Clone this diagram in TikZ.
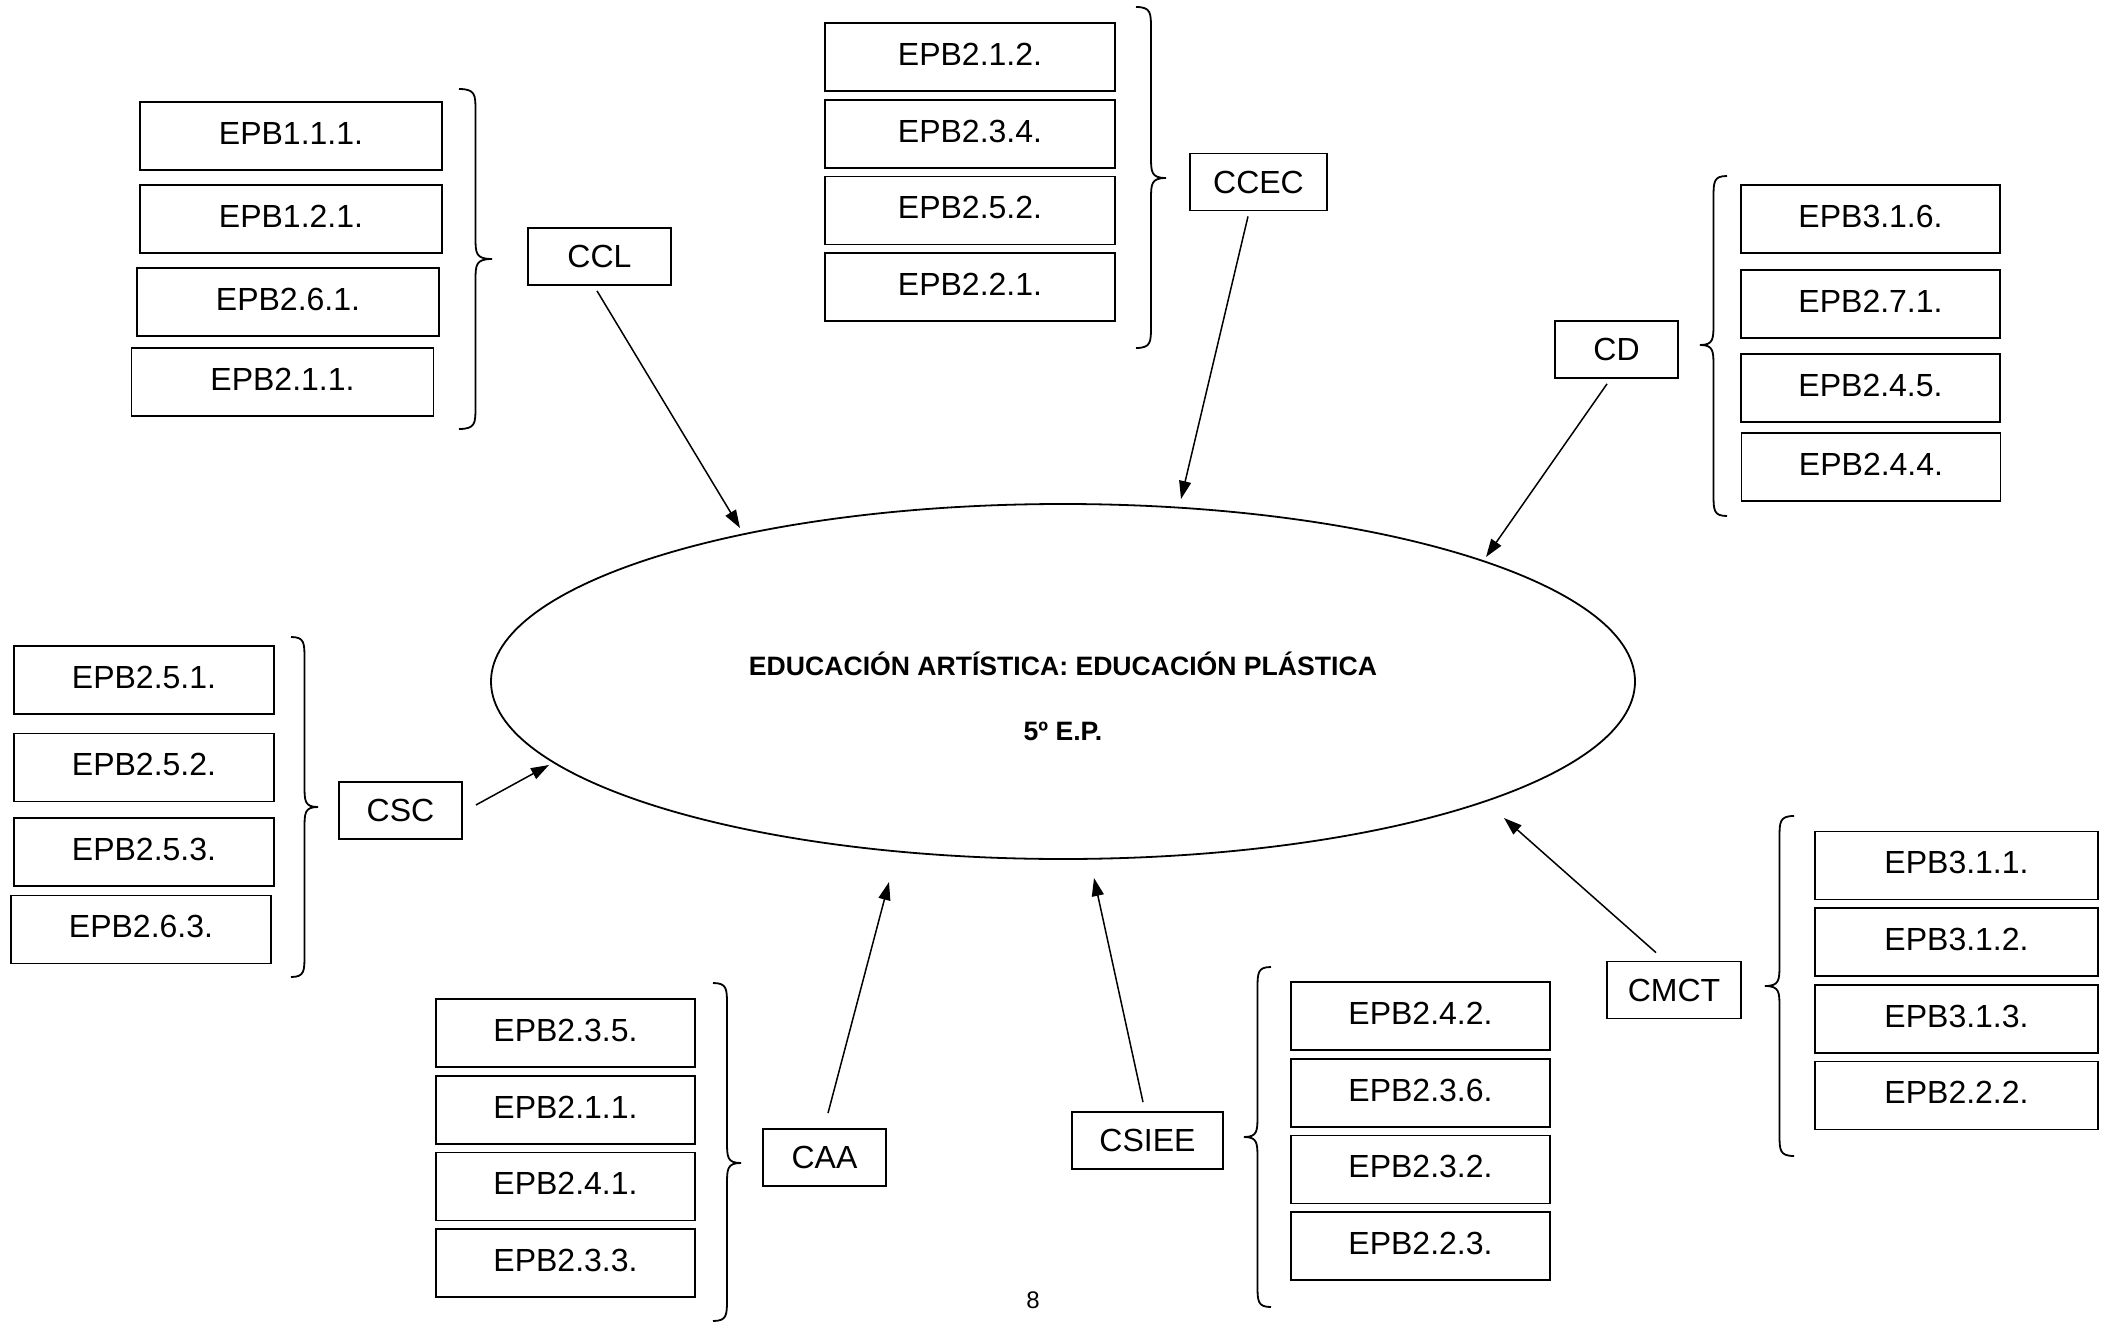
\documentclass[tikz,border=0pt]{standalone}
\usepackage{fontspec}
\setmainfont{Liberation Sans}
\usetikzlibrary{arrows.meta,shapes.geometric}
\newcommand{\drawbrace}[5]{% #1 ends x, #2 tip x, #3 top y, #4 tip y, #5 bottom y
  \draw[bracestyle] (#1,#3) .. controls ({(#1+#2)/2},#3) and ({(#1+#2)/2},{#3+6}) .. ({(#1+#2)/2},{#3+22})
    -- ({(#1+#2)/2},{#4-22}) .. controls ({(#1+#2)/2},{#4-6}) and ({(#1+#2)/2},#4) .. (#2,#4)
    .. controls ({(#1+#2)/2},#4) and ({(#1+#2)/2},{#4+6}) .. ({(#1+#2)/2},{#4+22})
    -- ({(#1+#2)/2},{#5-22}) .. controls ({(#1+#2)/2},{#5-6}) and ({(#1+#2)/2},#5) .. (#1,#5);
}
\tikzset{
  boxtext/.style={font=\fontsize{16pt}{19pt}\selectfont},
  epb/.style={draw, line width=0.9pt, minimum height=34pt, inner sep=0pt, text depth=3pt, boxtext},
  comp/.style={draw, line width=0.9pt, minimum height=28.5pt, inner sep=0pt, text depth=0pt, boxtext},
  bracestyle/.style={line width=0.9pt},
  arr/.style={line width=0.75pt, -{Triangle[length=9pt,width=6pt]}},
  titletext/.style={font=\fontsize{13.3pt}{16pt}\selectfont\bfseries, inner sep=0pt}
}
\begin{document}
\begin{tikzpicture}[x=0.5pt,y=-0.5pt]
\useasboundingbox (0,0) rectangle (2105,1322);

% central ellipse
\node[draw, ellipse, line width=0.9pt, minimum width=572pt, minimum height=177.5pt, inner sep=0pt] (main) at (1063,681.5) {};
\node[titletext] (title1) at (1063,664) {EDUCACIÓN ARTÍSTICA: EDUCACIÓN PLÁSTICA};
\node[titletext] (title2) at (1063,731) {5º E.P.};

% CCL group
\node[epb, minimum width=151pt] (l1) at (291,136) {EPB1.1.1.};
\node[epb, minimum width=151pt] (l2) at (291,219) {EPB1.2.1.};
\node[epb, minimum width=151pt] (l3) at (288,302) {EPB2.6.1.};
\node[epb, minimum width=151pt] (l4) at (282.5,382) {EPB2.1.1.};
\drawbrace{459}{492}{89}{259}{429}
\node[comp, minimum width=71.5pt] (ccl) at (599.5,256.5) {CCL};
\coordinate (tccl) at (740,528);
\draw[arr] ([shift={(-2.5,5)}]ccl.south) -- (tccl);

% CCEC group
\node[epb, minimum width=145pt] (e1) at (970,57) {EPB2.1.2.};
\node[epb, minimum width=145pt] (e2) at (970,134) {EPB2.3.4.};
\node[epb, minimum width=145pt] (e3) at (970,210.5) {EPB2.5.2.};
\node[epb, minimum width=145pt] (e4) at (970,287) {EPB2.2.1.};
\drawbrace{1136}{1166}{7}{178}{348}
\node[comp, minimum width=68.5pt] (ccec) at (1258.5,182) {CCEC};
\coordinate (tccec) at (1181,499);
\draw[arr] ([shift={(-10.5,5)}]ccec.south) -- (tccec);

% CD group
\node[comp, minimum width=61.5pt] (cd) at (1616.5,349.5) {CD};
\coordinate (tcd) at (1486,557);
\draw[arr] ([shift={(-9.5,5)}]cd.south) -- (tcd);
\node[epb, minimum width=129.5pt] (d1) at (1870.5,219) {EPB3.1.6.};
\node[epb, minimum width=129.5pt] (d2) at (1870.5,304) {EPB2.7.1.};
\node[epb, minimum width=129.5pt] (d3) at (1870.5,388) {EPB2.4.5.};
\node[epb, minimum width=129.5pt] (d4) at (1871,467) {EPB2.4.4.};
\drawbrace{1727}{1700}{176}{345}{516}

% CSC group
\node[epb, minimum width=130pt] (s1) at (144,680) {EPB2.5.1.};
\node[epb, minimum width=130pt] (s2) at (144,767.5) {EPB2.5.2.};
\node[epb, minimum width=130pt] (s3) at (144,852) {EPB2.5.3.};
\node[epb, minimum width=130pt] (s4) at (141,929.5) {EPB2.6.3.};
\drawbrace{291}{318}{637}{807}{977}
\node[comp, minimum width=61.5pt] (csc) at (400.5,810.5) {CSC};
\coordinate (tcsc) at (549,765);
\draw[arr] ([shift={(13,-5.5)}]csc.east) -- (tcsc);

% CAA group
\node[epb, minimum width=129.5pt] (a1) at (565.5,1033) {EPB2.3.5.};
\node[epb, minimum width=129.5pt] (a2) at (565.5,1110) {EPB2.1.1.};
\node[epb, minimum width=129.5pt] (a3) at (565.5,1186.5) {EPB2.4.1.};
\node[epb, minimum width=129.5pt] (a4) at (565.5,1263) {EPB2.3.3.};
\drawbrace{713}{741}{983}{1163}{1321}
\node[comp, minimum width=61.5pt] (caa) at (824.5,1157.5) {CAA};
\coordinate (tcaa) at (889,882);
\draw[arr] ([shift={(3.5,-15)}]caa.north) -- (tcaa);

% CSIEE group
\node[comp, minimum width=75.5pt] (csiee) at (1147.5,1140.5) {CSIEE};
\coordinate (tcsiee) at (1094,878);
\draw[arr] ([shift={(-4.5,-9)}]csiee.north) -- (tcsiee);
\node[epb, minimum width=129.5pt] (i1) at (1420.5,1016) {EPB2.4.2.};
\node[epb, minimum width=129.5pt] (i2) at (1420.5,1093) {EPB2.3.6.};
\node[epb, minimum width=129.5pt] (i3) at (1420.5,1169.5) {EPB2.3.2.};
\node[epb, minimum width=129.5pt] (i4) at (1420.5,1246) {EPB2.2.3.};
\drawbrace{1271}{1244}{967}{1137}{1307}

% CMCT group
\node[comp, minimum width=67pt] (cmct) at (1674,990) {CMCT};
\coordinate (tcmct) at (1504,818);
\draw[arr] ([shift={(-18,-8)}]cmct.north) -- (tcmct);
\node[epb, minimum width=141.5pt] (m1) at (1956.5,865.5) {EPB3.1.1.};
\node[epb, minimum width=141.5pt] (m2) at (1956.5,942) {EPB3.1.2.};
\node[epb, minimum width=141.5pt] (m3) at (1956.5,1019) {EPB3.1.3.};
\node[epb, minimum width=141.5pt] (m4) at (1956.5,1095.5) {EPB2.2.2.};
\drawbrace{1794}{1765}{816}{986}{1156}

% page number
\node[font=\fontsize{12pt}{14pt}\selectfont, inner sep=0pt] (pagenum) at (1033,1300) {8};
\end{tikzpicture}
\end{document}
